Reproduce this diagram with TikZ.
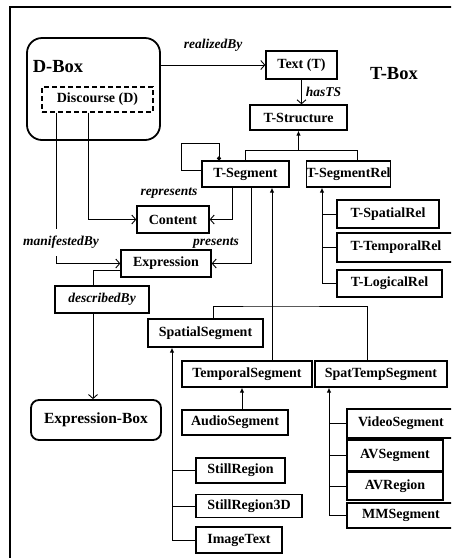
\documentclass[tikz,border=0pt]{standalone}
\usepackage{fontspec}
\setmainfont{Liberation Serif}
\usetikzlibrary{arrows.meta}

\begin{document}
\begin{tikzpicture}[x=1pt, y=-1pt,
  cls/.style={draw, line width=1.3pt, inner sep=0pt, minimum height=27pt, font=\fontsize{14}{16}\selectfont\bfseries},
  lbl/.style={font=\fontsize{13.5}{15}\selectfont\bfseries\itshape, inner sep=1pt},
  boxtitle/.style={font=\fontsize{18.5}{20}\selectfont\bfseries},
  conn/.style={line width=0.9pt},
  relto/.style={conn, -{Straight Barb[length=4pt,width=9pt]}},
  isa/.style={conn, -{Latex[length=5pt,width=4.5pt]}}]
\clip (0,0) rectangle (451,558);
\draw[line width=1.4pt] (10,560) -- (10,7) -- (460,7);

% D-Box
\node[cls, rounded corners=15pt, line width=1.8pt, minimum width=133pt, minimum height=102pt] (dbox) at (93.5,89) {};
\node[boxtitle] (dlabel) at (58,67) {D-Box};
\node[cls, dash pattern=on 5pt off 3pt, minimum width=111pt, minimum height=25pt] (discourse) at (97.5,99.5) {Discourse (D)};

% T-Box
\node[boxtitle] (tlabel) at (394,74) {T-Box};
\node[cls, minimum width=71pt, minimum height=28pt] (text) at (301.5,65) {Text (T)};
\node[cls, minimum width=97pt, minimum height=25pt] (tstruct) at (298.5,117.5) {T-Structure};
\node[cls, minimum width=87pt, minimum height=26pt] (tseg) at (245.5,174) {T-Segment};
\node[cls, minimum width=83pt, minimum height=26pt] (tsegrel) at (348.5,174) {T-SegmentRel};
\foreach \n/\x/\y/\w/\h/\t in {
    tspatial/388/214/102/28/T-SpatialRel,
    ttemporal/396/247.5/118/29/T-TemporalRel,
    tlogical/389.5/283.5/105/27/T-LogicalRel,
    content/173/219.5/72/27/Content,
    expr/166/263.5/90/27/Expression,
    spatial/205.5/333/115/28/SpatialSegment,
    temporal/247/374/130/26/TemporalSegment,
    spattemp/381/374/132/26/SpatTempSegment,
    audio/235/422.5/106/25/AudioSegment,
    stillr/240.5/470.5/89/25/StillRegion,
    stillr3d/249/506/106/23/StillRegion3D,
    imgtext/239/540/86/26/ImageText,
    video/401/423.5/108/29/VideoSegment,
    avseg/395/455.5/96/31/AVSegment,
    avregion/395/486/96/28/AVRegion,
    mmseg/401/515.5/108/25/MMSegment}
  \node[cls, minimum width=\w pt, minimum height=\h pt] (\n) at (\x,\y) {\t};
\node[cls, font=\fontsize{13.5}{15}\selectfont\bfseries\itshape, minimum width=94pt] (described) at (102,299.5) {describedBy};
\node[cls, rounded corners=8pt, line width=1.8pt, font=\fontsize{15.5}{17}\selectfont\bfseries, minimum width=130pt, minimum height=40pt] (exprbox) at (96,420) {Expression-Box};

% relations
\draw[relto] (text.west -| dbox.east) -- (text.west) node[lbl, midway, above=12pt] {realizedBy};
\draw[relto] (text.south) -- (text.south |- tstruct.north) node[lbl, midway, right=3pt] {hasTS};
\draw[conn] (tseg.north) -- (tseg.north |- 0,150) -| (tsegrel.north -| 357,0);
\draw[isa] (tstruct.south |- 0,150) -- (tstruct.south);
\draw[conn, -{Circle[length=4pt]}] (tseg.west |- 0,170) -- (181,170) -- (181,143) -- (219,143) -- (tseg.north -| 219,0);

\draw[relto] (discourse.south -| 88,0) |- (content.west);
\node[lbl] (replbl) at (169,193) {represents};
\draw[relto] (discourse.south -| 56,0) |- (expr.west) node[lbl, pos=0.43, fill=white, inner ysep=7pt, xshift=5pt] {manifestedBy};
\draw[relto] (tseg.south -| 232,0) |- (content.east);
\draw[relto] (tseg.south -| 251,0) |- (expr.east);
\node[lbl] (preslbl) at (216,243) {presents};
\draw[conn] (expr.west |- 0,270) -| (described.north -| 93,0);
\draw[relto] (described.south -| 93,0) -- (exprbox.north -| 93,0);

% subtypes
\draw[isa] (temporal.north -| 272,0) -- (tseg.south -| 272,0);
\draw[conn] (spatial.north -| 213,0) |- (272,306) -| (spattemp.north -| 367,0);
\draw[isa] (tlogical.west) -| (tsegrel.south -| 322,0);
\foreach \n in {tspatial,ttemporal} \draw[conn] (\n.west) -- (\n.west -| 322,0);
\draw[isa] (imgtext.west) -| (spatial.south -| 172,0);
\foreach \n in {stillr,stillr3d} \draw[conn] (\n.west) -- (\n.west -| 172,0);
\draw[isa] (audio.north -| 242,0) -- (temporal.south -| 242,0);
\draw[isa] (mmseg.west) -| (spattemp.south -| 329,0);
\foreach \n in {video,avseg,avregion} \draw[conn] (\n.west) -- (\n.west -| 329,0);
\end{tikzpicture}
\end{document}
